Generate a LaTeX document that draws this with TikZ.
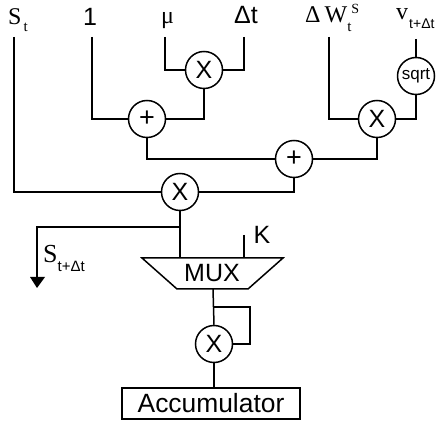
\documentclass[tikz,border=0pt]{standalone}
\usepackage{fontspec}
\setmainfont{Liberation Sans}
\newfontfamily\timesfont{Liberation Serif}
\newcommand{\subtxt}[2][7pt]{\raisebox{-#1}{\rmfamily\fontsize{15}{15}\selectfont #2}}
\tikzset{
	wire/.style={line width=1.5pt},
	op/.style={draw,circle,line width=1.5pt,minimum size=37pt,inner sep=0pt,font=\fontsize{25}{25}\selectfont},
	opplus/.style={op,font=\fontsize{27}{27}\selectfont},
	opsmall/.style={op,font=\fontsize{17}{17}\selectfont},
	lab/.style={inner sep=0pt,anchor=base,font=\fontsize{25}{25}\selectfont},
	labserif/.style={inner sep=0pt,anchor=base west,font=\timesfont\fontsize{24}{24}\selectfont},
}
\begin{document}
\begin{tikzpicture}[x=1pt,y=-1pt]
	\useasboundingbox (0,0) rectangle (436,427);
	% inputs
	\node[labserif] (labS) at (8,25) {S\subtxt{\hspace{2pt}\timesfont t}};
	\node[lab] (labone) at (90,26) {1};
	\node[labserif] (labmu) at (161,24) {μ};
	\node[lab] (labdt) at (246,24) {Δt};
	\node[labserif] (labW) at (305,23) {Δ\,W\rlap{\raisebox{-9pt}{\fontsize{15}{15}\selectfont t}}\hspace{4pt}\raisebox{9pt}{\fontsize{14}{14}\selectfont S}};
	\node[labserif] (labv) at (396,20) {v\subtxt[9pt]{\hspace{1pt}\fontsize{14}{14}\selectfont t+Δt}};
	\coordinate (inS) at (14,37);
	\coordinate (inone) at (92,37);
	\coordinate (inmu) at (165,37);
	\coordinate (indt) at (244,37);
	\coordinate (inW) at (329,37);
	\coordinate (inv) at (416,39);
	% operators
	\node[op] (mulmu) at (204,70) {X};
	\node[opplus] (plusa) at (147,119) {+};
	\node[opsmall] (sqrt) at (416,76) {sqrt};
	\node[op] (mulW) at (377,119) {X};
	\node[opplus] (plusb) at (294,159) {+};
	\node[op] (mulS) at (180,192) {X};
	\node[op] (mulsq) at (214,344) {X};
	\node[lab] (mux) at (212,282) {MUX};
	\node[draw,line width=1.5pt,minimum width=178pt,minimum height=31pt,inner sep=0pt,font=\fontsize{26.4}{26.4}\selectfont] (acc) at (211,403.5) {Accumulator};
	% mux body
	\coordinate (muxtop) at (213,258);
	\coordinate (muxbot) at (213,289);
	\draw[wire,line join=miter] (142,258) -- (283,258) -- (248,289) -- (177,289) -- cycle;
	% wires
	\draw[wire] (inmu) |- (mulmu.west);
	\draw[wire] (indt) |- (mulmu.east);
	\draw[wire] (inone) |- (plusa.west);
	\draw[wire] (plusa.east) -| (mulmu.south);
	\draw[wire] (inW) |- (mulW.west);
	\draw[wire] (inv) -- (sqrt.north);
	\draw[wire] (sqrt.south) |- (mulW.east);
	\draw[wire] (plusa.south) |- (plusb.west);
	\draw[wire] (plusb.east) -| (mulW.south);
	\draw[wire] (inS) |- (mulS.west);
	\draw[wire] (plusb.south) |- (mulS.east);
	\draw[wire] (mulS.south) -- (mulS.south |- muxtop);
	% output
	\coordinate (branch) at (mulS.south |- 0,227);
	\coordinate (outS) at (37,288);
	\draw[wire] (branch) -| (37,278);
	\fill (30,277) -- (45,277) -- (outS) -- cycle;
	\node[labserif,font=\timesfont\fontsize{26}{26}\selectfont] (labout) at (43,263) {S\subtxt[9pt]{t+Δt}};
	% K input
	\coordinate (inK) at (244,235);
	\draw[wire] (inK) -- (inK |- muxtop);
	\node[lab] (labK) at (262,244) {K};
	% squarer
	\coordinate (loop) at (250,307);
	\draw[wire] (muxbot) -- (mulsq.north);
	\draw[wire] (mulsq.north |- loop) -- (loop) |- (mulsq.east);
	\draw[wire] (mulsq.south) -- (mulsq.south |- acc.north);
\end{tikzpicture}
\end{document}
